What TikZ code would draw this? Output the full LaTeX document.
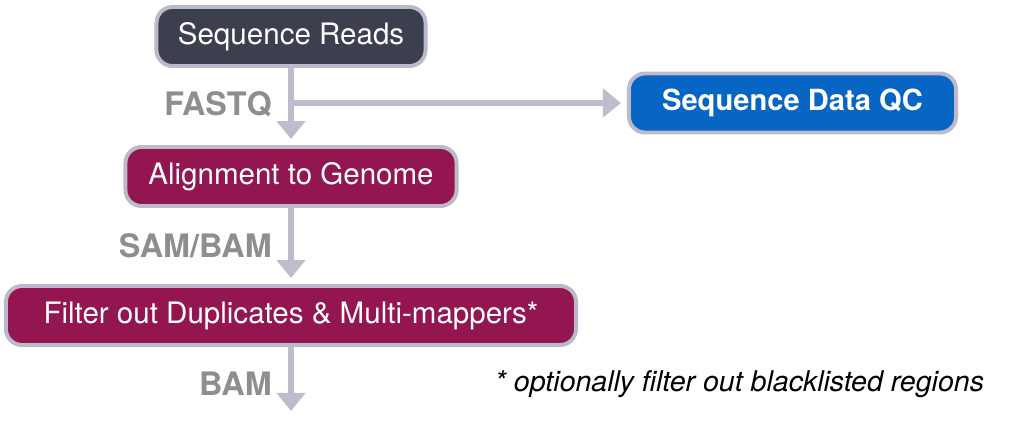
\documentclass[tikz,border=0pt]{standalone}
\usepackage{fontspec}
\setmainfont{TeX Gyre Heros}
\usetikzlibrary{arrows.meta,positioning}

\definecolor{readsgray}{HTML}{3B3F4E}
\definecolor{qcblue}{HTML}{0766C4}
\definecolor{alignred}{HTML}{931650}
\definecolor{edgegray}{HTML}{BBBACB}
\definecolor{arrowgray}{HTML}{BDBDCB}
\definecolor{fmtgray}{HTML}{8C8E90}

\begin{document}
\begin{tikzpicture}[x=0.025cm,y=-0.025cm,>={Triangle[width=0.7cm,length=0.45cm]},
	font=\fontsize{21}{25}\selectfont]
	\tikzstyle{stagebox}=[draw=edgegray,line width=2.8pt,rounded corners=0.4cm,text=white,minimum height=1.475cm,inner sep=0pt]
	\tikzstyle{flow}=[->,draw=arrowgray,line width=3.9pt,shorten >=0.15cm]
	\tikzstyle{format}=[text=fmtgray,font=\fontsize{23}{27}\selectfont\bfseries,anchor=east,inner sep=0pt]

	\useasboundingbox (0,0) rectangle (1034,421);

	\node[stagebox,fill=readsgray,minimum width=6.725cm] (reads) at (291,36.5) {Sequence Reads};
	\node[stagebox,fill=qcblue,minimum width=8.175cm,font=\fontsize{20.7}{25}\selectfont\bfseries] (qc) at (792.5,103) {Sequence Data QC};
	\node[stagebox,fill=alignred,minimum width=8.275cm] (align) at (291,176.5) {Alignment to Genome};
	\node[stagebox,fill=alignred,minimum width=14.25cm] (filter) at (291,315.5) {Filter out Duplicates \& Multi-mappers*};

	\coordinate (fork) at (291,103);
	\coordinate (out) at (291,417);

	\node[format] (fastq) at (272,104) {FASTQ};
	\node[format] (sambam) at (272,246) {SAM/BAM};
	\node[format] (bam) at (272,384) {BAM};
	\node[font=\fontsize{20.3}{24}\selectfont\itshape,inner sep=0pt] (note) at (739.5,384) {* optionally filter out blacklisted regions};

	\draw[flow] (reads) -- (align);
	\draw[flow] (fork) -- (qc);
	\draw[flow] (align) -- (filter);
	\draw[flow] (filter) -- (out);
\end{tikzpicture}
\end{document}
